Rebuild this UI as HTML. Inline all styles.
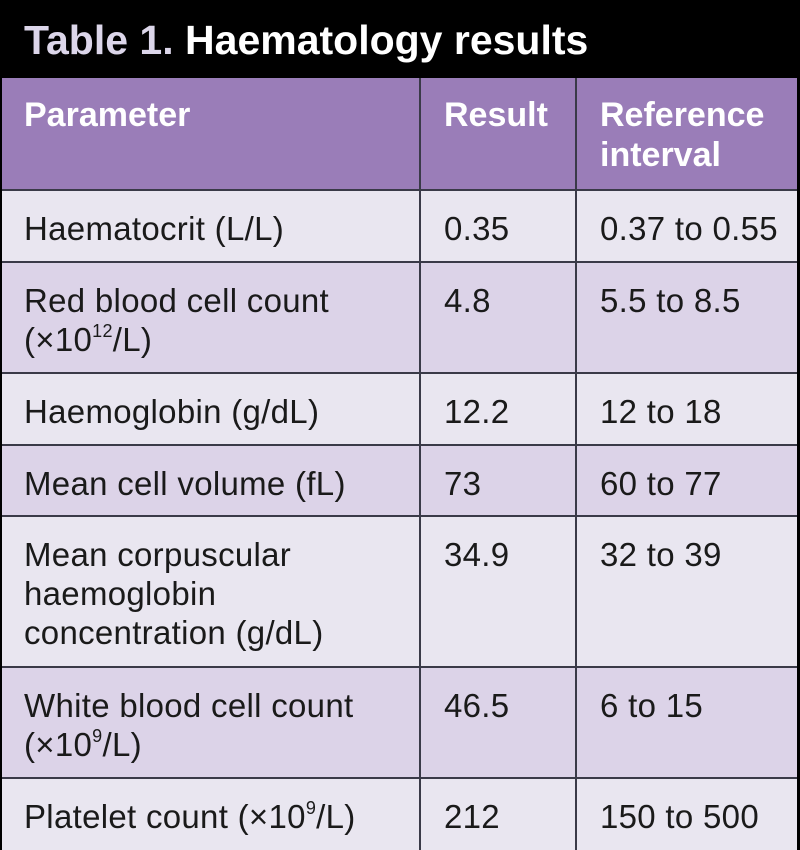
<!DOCTYPE html>
<html><head><meta charset="utf-8"><style>
body{margin:0;width:800px;height:850px;background:#000;position:relative;overflow:hidden;font-family:"Liberation Sans",sans-serif}
.title{position:absolute;left:24px;top:16px;font-size:41px;font-weight:bold;color:#fff;letter-spacing:0px;line-height:48px}
.title span{color:#dcd6ea}
.row{position:absolute;left:2px;width:795px}
.cell{position:absolute;top:0;bottom:0;box-sizing:border-box;padding-top:18px;font-size:33px;line-height:39px;color:#1a1a1a;letter-spacing:0.3px}
.c1{left:0;width:417px;padding-left:22px}
.c2{left:417px;width:156px;padding-left:23px;border-left:2px solid #3a3a48}
.c3{left:573px;width:222px;padding-left:23px;border-left:2px solid #3a3a48}
.hdr .cell{color:#fff;font-weight:bold;font-size:34px;padding-top:17px;line-height:40px;letter-spacing:0}
.hdr{background:#9a7db8}
.l{background:#e9e6f0}
.d{background:#dcd3e8}
.row+.row{border-top:2px solid #3a3a48}
sup{font-size:18px;line-height:0;vertical-align:14px}
</style></head><body>
<div class="title"><span>Table 1.</span> Haematology results</div>
<div class="row hdr" style="top:78px;height:111px">
<div class="cell c1">Parameter</div>
<div class="cell c2">Result</div>
<div class="cell c3">Reference<br>interval</div></div>
<div class="row l" style="top:189px;height:72px">
<div class="cell c1">Haematocrit (L/L)</div><div class="cell c2">0.35</div><div class="cell c3">0.37 to 0.55</div></div>
<div class="row d" style="top:261px;height:111px">
<div class="cell c1">Red blood cell count<br>(×10<sup>12</sup>/L)</div><div class="cell c2">4.8</div><div class="cell c3">5.5 to 8.5</div></div>
<div class="row l" style="top:372px;height:72px">
<div class="cell c1">Haemoglobin (g/dL)</div><div class="cell c2">12.2</div><div class="cell c3">12 to 18</div></div>
<div class="row d" style="top:444px;height:71px">
<div class="cell c1">Mean cell volume (fL)</div><div class="cell c2">73</div><div class="cell c3">60 to 77</div></div>
<div class="row l" style="top:515px;height:151px">
<div class="cell c1">Mean corpuscular<br>haemoglobin<br>concentration (g/dL)</div><div class="cell c2">34.9</div><div class="cell c3">32 to 39</div></div>
<div class="row d" style="top:666px;height:111px">
<div class="cell c1">White blood cell count<br>(×10<sup>9</sup>/L)</div><div class="cell c2">46.5</div><div class="cell c3">6 to 15</div></div>
<div class="row l" style="top:777px;height:71px">
<div class="cell c1">Platelet count (×10<sup>9</sup>/L)</div><div class="cell c2">212</div><div class="cell c3">150 to 500</div></div>
</body></html>
